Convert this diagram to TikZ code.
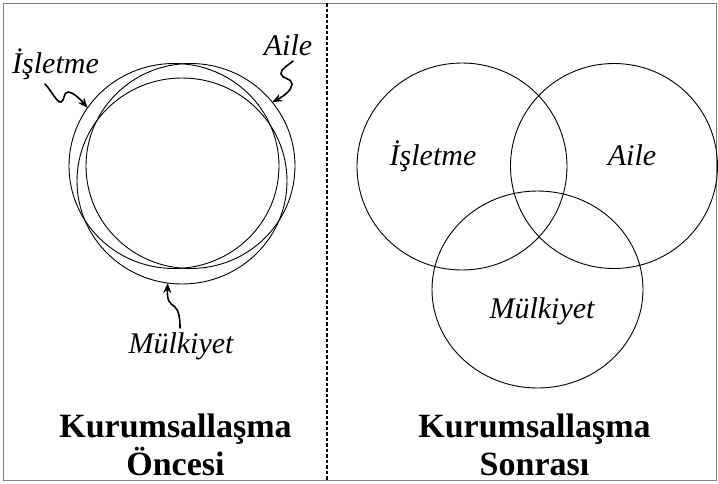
\documentclass[tikz,border=0pt]{standalone}
\usepackage{fontspec}
\setmainfont{Liberation Serif}
\usetikzlibrary{shapes.geometric,arrows.meta}
\begin{document}
\begin{tikzpicture}[x=1pt,y=-1pt,
  ring/.style={draw, ellipse, inner sep=0pt, outer sep=0pt, line width=0.9pt},
  lbl/.style={font=\fontsize{30}{31}\selectfont\itshape, inner sep=0pt, anchor=base},
  ttl/.style={font=\fontsize{34}{38}\selectfont\bfseries, inner sep=0pt, anchor=base},
  squig/.style={line width=1.6pt, line cap=round, -{Stealth[length=10pt,width=8pt]}}]
\useasboundingbox (0,0) rectangle (718,483);
% frame and divider
\draw[gray, line width=1pt] (3,3) rectangle (716,480);
\coordinate (dtop) at (327,3);
\coordinate (dbot) at (327,480);
\draw[line width=1.1pt, dash pattern=on 3.5pt off 2pt] (dtop) -- (dbot);

% left: before institutionalisation
\node[ring, minimum width=210pt, minimum height=205pt] (eI) at (174,166) {};
\node[ring, minimum width=209pt, minimum height=205pt] (eA) at (190.5,166) {};
\node[ring, minimum width=210pt, minimum height=206pt] (eM) at (182,181) {};

\node[lbl] (lI) at (55.5,73) {İşletme};
\node[lbl] (lA) at (288,55) {Aile};
\node[lbl] (lM) at (181,353) {Mülkiyet};

\coordinate (tI) at (45,84);
\coordinate (tA) at (293,61);
\coordinate (tM) at (180,328);

\draw[squig] (tI) .. controls (51,90) and (57,103) .. (61,102)
  .. controls (65,101) and (63,92) .. (68,92)
  .. controls (73,92) and (80,99) .. (eI.146);
\draw[squig] (tA) .. controls (289,65) and (280,69) .. (281,74)
  .. controls (282,79) and (292,78) .. (292,84)
  .. controls (292,90) and (284,96) .. (eA.38);
\draw[squig] (tM) .. controls (180,318) and (179,311) .. (175,307)
  .. controls (169,303) and (167,300) .. (eM.262);

\node[ttl] (t1) at (175.5,437) {Kurumsallaşma};
\node[ttl] (t2) at (175.5,475) {Öncesi};

% right: after institutionalisation
\node[ring, minimum width=210pt, minimum height=207pt] (vI) at (462,166.5) {};
\node[ring, minimum width=207pt, minimum height=205pt] (vA) at (614,166) {};
\node[ring, minimum width=211pt, minimum height=197pt] (vM) at (537.5,289.5) {};

\node[lbl] (rI) at (433,165) {İşletme};
\node[lbl] (rA) at (632,165) {Aile};
\node[lbl] (rM) at (542,318) {Mülkiyet};

\node[ttl] (t3) at (534.5,437) {Kurumsallaşma};
\node[ttl] (t4) at (534.5,475) {Sonrası};
\end{tikzpicture}
\end{document}
